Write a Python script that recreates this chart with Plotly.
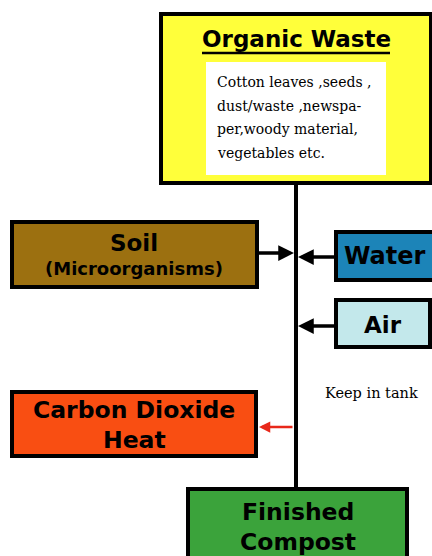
import plotly.graph_objects as go

# ---- content ----
title_text = "Organic Waste"
waste_lines = ["Cotton leaves ,seeds ,", "dust/waste ,newspa-", "per,woody material,", "vegetables etc."]
soil_lines = ["Soil", "(Microorganisms)"]
water_label = "Water"
air_label = "Air"
co2_lines = ["Carbon Dioxide", "Heat"]
compost_lines = ["Finished", "Compost"]
tank_note = "Keep in tank"

W, H = 432, 556
fig = go.Figure()
fig.add_trace(go.Scatter(x=[0, W], y=[0, H], mode="markers", marker=dict(opacity=0), hoverinfo="skip", showlegend=False))

BOLD = "DejaVu Sans"
SERIF = "DejaVu Serif"

def box(x0, y0, x1, y1, fill, lw=4):
    fig.add_shape(type="rect", x0=x0, y0=y0, x1=x1, y1=y1, xref="x", yref="y",
                  fillcolor=fill, line=dict(color="black", width=lw), layer="below")

def text(x, y, s, size, font=BOLD, weight=700, xanchor="center", yanchor="middle"):
    fig.add_annotation(x=x, y=y, xref="x", yref="y", text=s,
                       showarrow=False, font=dict(family=font, size=size, color="black", weight=weight),
                       xanchor=xanchor, yanchor=yanchor, borderpad=0)

def two_lines(x, ymid, lines, size1, size2):
    text(x, ymid, lines[0], size1, yanchor="bottom")
    text(x, ymid, lines[1], size2, yanchor="top")

def arrow(x_from, x_to, y, color="black", width=3.5):
    fig.add_annotation(x=x_to, y=y, ax=x_from, ay=y, xref="x", yref="y", axref="x", ayref="y",
                       text="", showarrow=True, arrowhead=2, arrowsize=0.9, arrowwidth=width,
                       arrowcolor=color)

# vertical trunk
fig.add_shape(type="line", x0=296, y0=182, x1=296, y1=490, xref="x", yref="y",
              line=dict(color="black", width=4), layer="below")

# Organic waste
box(161, 14, 431, 183, "#FFFF3A")
text(296, 39, title_text, 23)
fig.add_shape(type="line", x0=202, y0=53, x1=390, y1=53, xref="x", yref="y",
              line=dict(color="black", width=2.5))
fig.add_shape(type="rect", x0=206, y0=62, x1=386, y1=175, xref="x", yref="y",
              fillcolor="white", line=dict(width=0))
for i, ln in enumerate(waste_lines):
    text(216, 82 + i * 23.5, ln, 14, font=SERIF, weight=400, xanchor="left")

# Soil
box(12, 222, 257, 287, "#9C7010")
two_lines(134, 257, soil_lines, 23, 18)
arrow(257, 294, 253)

# Water
box(336, 232, 434, 280, "#1C84B8")
text(385, 256, water_label, 24)
arrow(336, 298, 257)

# Air
box(336, 300, 430, 347, "#C3E8EB")
text(383, 325, air_label, 23)
arrow(336, 298, 326)

# note
text(324, 393, tank_note, 14.5, font=SERIF, weight=400, xanchor="left")

# CO2
box(12, 392, 256, 456, "#F94E12")
two_lines(134, 425, co2_lines, 23.5, 23.5)
arrow(294, 259, 427, color="#E8281A", width=2.5)

# Compost
box(188, 489, 407, 560, "#3BA33B")
two_lines(298, 527, compost_lines, 23.5, 23.5)

fig.update_layout(width=W, height=H, margin=dict(l=0, r=0, t=0, b=0),
                  plot_bgcolor="white", paper_bgcolor="white",
                  xaxis=dict(range=[0, W], visible=False, fixedrange=True),
                  yaxis=dict(range=[H, 0], visible=False, fixedrange=True),
                  showlegend=False)
fig.write_html("out.html", config={"displayModeBar": False},
               post_script="document.body.style.margin='0';document.body.style.overflow='hidden';")
